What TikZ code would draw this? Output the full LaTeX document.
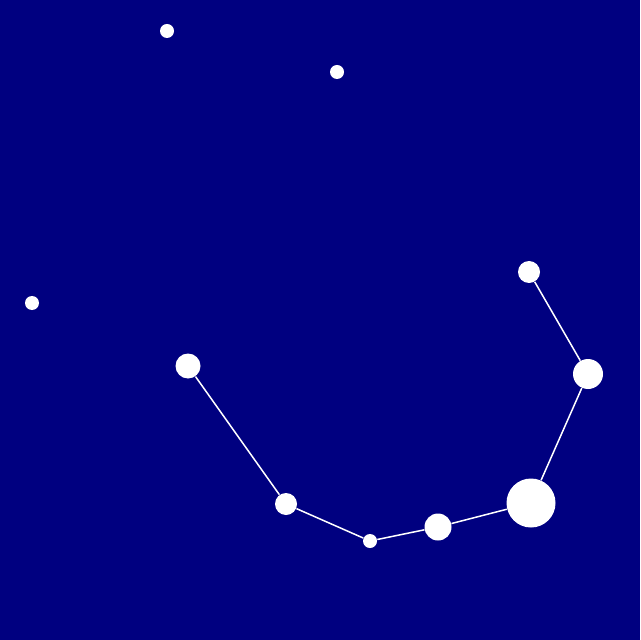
\documentclass[tikz,border=0pt]{standalone}
\usepackage{tikz}
\definecolor{sky}{RGB}{0,0,128}
\begin{document}
\begin{tikzpicture}[x=0.5pt,y=-0.5pt,
  star/.style={circle,fill=white,draw=none,inner sep=0pt,minimum size=#1},
  link/.style={draw=white,line width=0.75pt}]
\fill[sky] (0,0) rectangle (640,640);
\useasboundingbox (0,0) rectangle (640,640);
\node[star=7pt] (s1) at (167,31) {};
\node[star=7pt] (s2) at (337,72) {};
\node[star=7pt] (s3) at (32,303) {};
\node[star=12.5pt] (s4) at (188,366) {};
\node[star=11pt] (s5) at (286,504) {};
\node[star=7pt] (s6) at (370,541) {};
\node[star=13.5pt] (s7) at (438,527) {};
\node[star=24.5pt] (s8) at (531,503) {};
\node[star=15pt] (s9) at (588,374) {};
\node[star=11pt] (s10) at (529,272) {};
\draw[link] (s4) -- (s5) -- (s6) -- (s7) -- (s8) -- (s9) -- (s10);
\end{tikzpicture}
\end{document}
